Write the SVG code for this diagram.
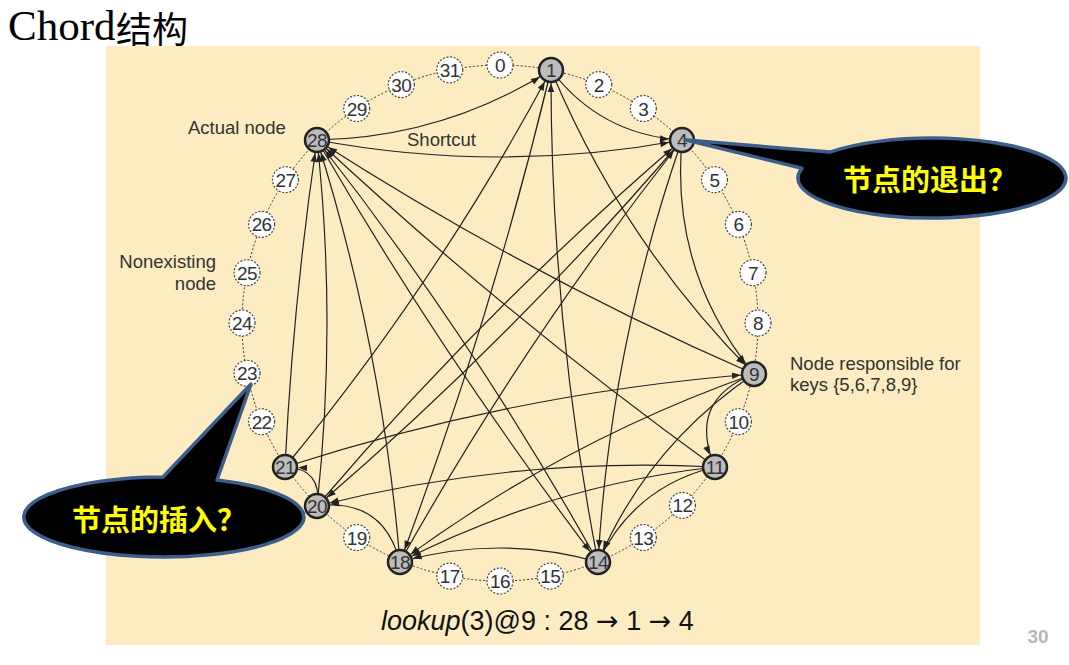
<svg xmlns="http://www.w3.org/2000/svg" width="1069" height="665" viewBox="0 0 1069 665">
<defs>
<style>
.e{fill:none;stroke:#222;stroke-width:1.2;marker-end:url(#ah)}
.an circle{fill:#bcbcbc;stroke:#222;stroke-width:2.5}
.nn circle{fill:#fff;stroke:#444;stroke-width:1.2;stroke-dasharray:2 1.6}
.num{font-family:"Liberation Sans",Arial,sans-serif;font-size:19px;fill:#333;text-anchor:middle;letter-spacing:-0.6px}
.lbl{font-family:"Liberation Sans",Arial,sans-serif;font-size:18.5px;fill:#333}
.co{fill:#000;stroke:#3b5e8c;stroke-width:3.5;stroke-linejoin:round}
.cot{font-family:"Noto Sans CJK SC",sans-serif;font-weight:bold;font-size:29px;fill:#ffff00;text-anchor:middle}
</style>
<marker id="ah" markerUnits="userSpaceOnUse" viewBox="0 -5 24 10" refX="24" refY="0" markerWidth="24" markerHeight="10" orient="auto">
<path d="M2,-3.3 L10.8,0 L2,3.3 z" fill="#222"/>
</marker>
</defs>
<rect width="1069" height="665" fill="#fff"/>
<g id="title">
<text x="8" y="40" font-family="'Liberation Serif','Times New Roman',serif" font-size="43" fill="#000">Chord</text>
<text x="116" y="43" font-family="'Noto Sans CJK SC',sans-serif" font-size="36" fill="#000">结构</text>
</g>
<rect x="106" y="46" width="874" height="599" fill="#fdecc1"/>
<circle cx="500" cy="323" r="258" fill="none" stroke="#333" stroke-width="1" stroke-dasharray="2 2"/>
<g id="edges">
<path class="e" d="M551,70 Q600.5,135 682,140"/>
<path class="e" d="M551,70 Q622.6,242 754,374"/>
<path class="e" d="M551,70 Q490.8,320.7 400,562"/>
<path class="e" d="M682,140 Q670.2,271.7 754,374"/>
<path class="e" d="M682,140 Q610.6,345.1 598,562"/>
<path class="e" d="M682,140 Q513.7,337.1 317,506"/>
<path class="e" d="M754,374 Q686.5,400.4 715,467"/>
<path class="e" d="M754,374 Q648.3,445 598,562"/>
<path class="e" d="M754,374 Q562.9,441.5 400,562"/>
<path class="e" d="M754,374 Q526.1,274.6 317,140"/>
<path class="e" d="M715,467 Q633.8,486.6 598,562"/>
<path class="e" d="M715,467 Q548.8,485.8 400,562"/>
<path class="e" d="M715,467 Q513.1,456.6 317,506"/>
<path class="e" d="M715,467 Q505.8,315.9 317,140"/>
<path class="e" d="M598,562 Q499,534 400,562"/>
<path class="e" d="M598,562 Q474.1,339.9 317,140"/>
<path class="e" d="M598,562 Q550.6,318.3 551,70"/>
<path class="e" d="M400,562 Q383.1,497.5 317,506"/>
<path class="e" d="M400,562 Q382,346.4 317,140"/>
<path class="e" d="M400,562 Q524.4,339.9 682,140"/>
<path class="e" d="M317,506 Q322.7,468.7 285,467"/>
<path class="e" d="M317,506 Q337,323 317,140"/>
<path class="e" d="M317,506 Q485.3,308.9 682,140"/>
<path class="e" d="M285,467 Q293,302.7 317,140"/>
<path class="e" d="M285,467 Q437.9,281.9 551,70"/>
<path class="e" d="M285,467 Q514,393 754,374"/>
<path class="e" d="M317,140 Q443.8,137.6 551,70"/>
<path class="e" d="M317,140 Q499.5,174 682,140"/>
<path class="e" d="M317,140 Q444.2,359.9 598,562"/>
</g>
<g id="n0" class="nn"><circle cx="500" cy="65" r="13"/><text class="num" x="500" y="72">0</text></g>
<g id="n2" class="nn"><circle cx="598.7" cy="84.6" r="13"/><text class="num" x="598.7" y="91.6">2</text></g>
<g id="n3" class="nn"><circle cx="643.3" cy="108.5" r="13"/><text class="num" x="643.3" y="115.5">3</text></g>
<g id="n5" class="nn"><circle cx="714.5" cy="179.7" r="13"/><text class="num" x="714.5" y="186.7">5</text></g>
<g id="n6" class="nn"><circle cx="738.4" cy="224.3" r="13"/><text class="num" x="738.4" y="231.3">6</text></g>
<g id="n7" class="nn"><circle cx="753" cy="272.7" r="13"/><text class="num" x="753" y="279.7">7</text></g>
<g id="n8" class="nn"><circle cx="758" cy="323" r="13"/><text class="num" x="758" y="330">8</text></g>
<g id="n10" class="nn"><circle cx="738.4" cy="421.7" r="13"/><text class="num" x="738.4" y="428.7">10</text></g>
<g id="n12" class="nn"><circle cx="682.4" cy="505.4" r="13"/><text class="num" x="682.4" y="512.4">12</text></g>
<g id="n13" class="nn"><circle cx="643.3" cy="537.5" r="13"/><text class="num" x="643.3" y="544.5">13</text></g>
<g id="n15" class="nn"><circle cx="550.3" cy="576.1" r="13"/><text class="num" x="550.3" y="583.1">15</text></g>
<g id="n16" class="nn"><circle cx="500" cy="581" r="13"/><text class="num" x="500" y="588">16</text></g>
<g id="n17" class="nn"><circle cx="449.7" cy="576.1" r="13"/><text class="num" x="449.7" y="583.1">17</text></g>
<g id="n19" class="nn"><circle cx="356.7" cy="537.5" r="13"/><text class="num" x="356.7" y="544.5">19</text></g>
<g id="n22" class="nn"><circle cx="261.6" cy="421.7" r="13"/><text class="num" x="261.6" y="428.7">22</text></g>
<g id="n23" class="nn"><circle cx="247" cy="373.3" r="13"/><text class="num" x="247" y="380.3">23</text></g>
<g id="n24" class="nn"><circle cx="242" cy="323" r="13"/><text class="num" x="242" y="330">24</text></g>
<g id="n25" class="nn"><circle cx="247" cy="272.7" r="13"/><text class="num" x="247" y="279.7">25</text></g>
<g id="n26" class="nn"><circle cx="261.6" cy="224.3" r="13"/><text class="num" x="261.6" y="231.3">26</text></g>
<g id="n27" class="nn"><circle cx="285.5" cy="179.7" r="13"/><text class="num" x="285.5" y="186.7">27</text></g>
<g id="n29" class="nn"><circle cx="356.7" cy="108.5" r="13"/><text class="num" x="356.7" y="115.5">29</text></g>
<g id="n30" class="nn"><circle cx="401.3" cy="84.6" r="13"/><text class="num" x="401.3" y="91.6">30</text></g>
<g id="n31" class="nn"><circle cx="449.7" cy="69.9" r="13"/><text class="num" x="449.7" y="76.9">31</text></g>
<g id="n1" class="an"><circle cx="551" cy="70" r="12"/><text class="num" x="551" y="77">1</text></g>
<g id="n4" class="an"><circle cx="682" cy="140" r="12"/><text class="num" x="682" y="147">4</text></g>
<g id="n9" class="an"><circle cx="754" cy="374" r="12"/><text class="num" x="754" y="381">9</text></g>
<g id="n11" class="an"><circle cx="715" cy="467" r="12"/><text class="num" x="715" y="474">11</text></g>
<g id="n14" class="an"><circle cx="598" cy="562" r="12"/><text class="num" x="598" y="569">14</text></g>
<g id="n18" class="an"><circle cx="400" cy="562" r="12"/><text class="num" x="400" y="569">18</text></g>
<g id="n20" class="an"><circle cx="317" cy="506" r="12"/><text class="num" x="317" y="513">20</text></g>
<g id="n21" class="an"><circle cx="285" cy="467" r="12"/><text class="num" x="285" y="474">21</text></g>
<g id="n28" class="an"><circle cx="317" cy="140" r="12"/><text class="num" x="317" y="147">28</text></g>
<text class="lbl" x="188" y="134">Actual node</text>
<text class="lbl" x="407" y="146">Shortcut</text>
<text class="lbl" x="216" y="268" text-anchor="end">Nonexisting</text>
<text class="lbl" x="216" y="290" text-anchor="end">node</text>
<text class="lbl" x="790" y="370">Node responsible for</text>
<text class="lbl" x="790" y="391">keys {5,6,7,8,9}</text>
<text x="381" y="630" font-family="'Liberation Sans',Arial,sans-serif" font-size="27" fill="#111"><tspan font-style="italic">lookup</tspan>(3)@9 : 28 <tspan font-family="'DejaVu Sans',sans-serif">→</tspan> 1 <tspan font-family="'DejaVu Sans',sans-serif">→</tspan> 4</text>
<text x="1038" y="643" font-family="'Liberation Sans',Arial,sans-serif" font-size="19" font-weight="bold" fill="#b8b8b8" text-anchor="middle">30</text>
<g id="callout-exit">
<path class="co" d="M686,140 L830,152.1 A134,40 0 1 1 802,168.3 Z"/>
<text class="cot" x="930" y="191">节点的退出？</text>
</g>
<g id="callout-insert">
<path class="co" d="M251,384 L217,480 A140,40 0 1 1 163,477 Z"/>
<text class="cot" x="159" y="531">节点的插入？</text>
</g>
</svg>
